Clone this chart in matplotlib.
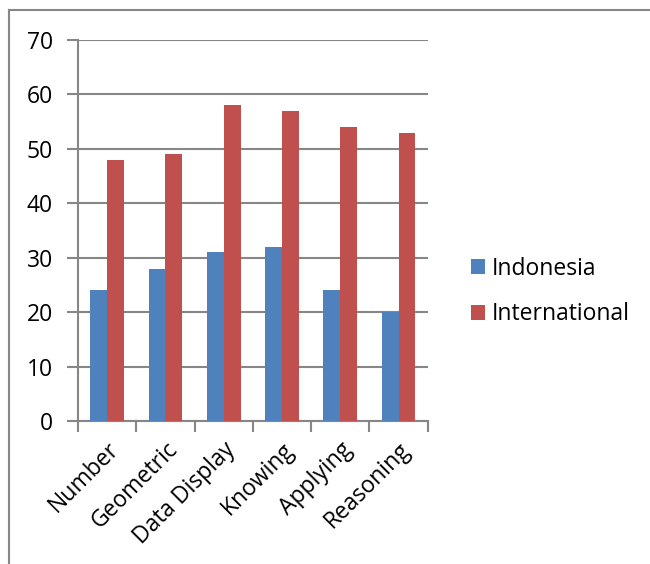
import matplotlib
matplotlib.use("Agg")
import matplotlib.pyplot as plt
from matplotlib.lines import Line2D
import numpy as np

plt.rcParams['font.family'] = ['Open Sans', 'DejaVu Sans']

categories = ['Number', 'Geometric', 'Data Display', 'Knowing', 'Applying', 'Reasoning']
indonesia = [24, 28, 31, 32, 24, 20]
international = [48, 49, 58, 57, 54, 53]
y_ticks = [0, 10, 20, 30, 40, 50, 60, 70]

blue = '#4F81BD'
red = '#C0504D'
grey = '#868686'
fs = 16.5

fig = plt.figure(figsize=(6.5, 5.64), dpi=100)
ax = fig.add_axes([0.12, 0.2535, 0.538, 0.6755])

x = np.arange(len(categories))
w = 0.29
ax.bar(x - w/2, indonesia, w, color=blue, label='Indonesia', zorder=3)
ax.bar(x + w/2, international, w, color=red, label='International', zorder=3)

ax.set_xlim(-0.5, len(categories) - 0.5)
ax.set_ylim(0, 70)
ax.set_yticks(y_ticks)
ax.yaxis.grid(True, color=grey, linewidth=1.5, zorder=0)
ax.tick_params(axis='y', length=8, width=1.5, color=grey, labelsize=fs, pad=10)

# tick marks on category boundaries, labels in the middle
ax.set_xticks(np.arange(-0.5, len(categories)), labels=[''] * (len(categories) + 1))
ax.tick_params(axis='x', which='major', length=8, width=1.5, color=grey)
ax.set_xticks(x, minor=True)
ax.set_xticklabels(categories, minor=True, rotation=45, ha='right',
                   rotation_mode='anchor', fontsize=fs)
ax.tick_params(axis='x', which='minor', length=0, pad=12)

for s in ['top', 'right']:
    ax.spines[s].set_visible(False)
for s in ['left', 'bottom']:
    ax.spines[s].set_color(grey)
    ax.spines[s].set_linewidth(1.5)

ax.legend(loc='center left', bbox_to_anchor=(1.123, 0.34), frameon=False,
          fontsize=fs, handlelength=0.61, handleheight=0.61, handletextpad=0.3,
          labelspacing=0.95, borderpad=0, borderaxespad=0)

# outer chart frame (only top and left edges visible)
fig.add_artist(Line2D([9/650, 1], [1 - 10/564, 1 - 10/564], color=grey, lw=1.5))
fig.add_artist(Line2D([9/650, 9/650], [0, 1 - 10/564], color=grey, lw=1.5))

fig.savefig('out.png', dpi=100)
